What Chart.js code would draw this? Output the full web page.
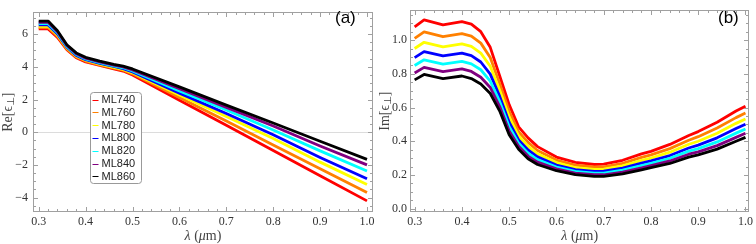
<!DOCTYPE html>
<html><head><meta charset="utf-8">
<script src="https://cdn.jsdelivr.net/npm/chart.js@4.4.0/dist/chart.umd.min.js"></script>
<style>
html,body{margin:0;padding:0;background:#fff;}
#wrap{position:relative;width:756px;height:244px;background:#fff;}
.pane{position:absolute;top:0;width:378px;height:244px;}
</style></head><body>
<div id="wrap">
<div class="pane" style="left:0"><canvas id="cA" width="378" height="244"></canvas></div>
<div class="pane" style="left:378px"><canvas id="cB" width="378" height="244"></canvas></div>
</div>
<script>
const seriesNames = ['ML740','ML760','ML780','ML800','ML820','ML840','ML860'];
const seriesColors = ['#ff0000','#ff8000','#ffff00','#0000ff','#00ffff','#800080','#000000'];

// Panel (a): Re[eps_perp]
const lamA = [0.30,0.32,0.34,0.36,0.38,0.40,0.43,0.46,0.48,0.50,0.60,0.70,0.80,0.90,1.00];
const re740 = [6.32,6.32,5.80,5.05,4.55,4.30,4.08,3.88,3.74,3.50,1.96,0.42,-1.12,-2.66,-4.20];
const re760 = [6.40,6.40,5.87,5.10,4.60,4.35,4.12,3.92,3.79,3.57,2.13,0.68,-0.78,-2.23,-3.68];
const re780 = [6.48,6.48,5.94,5.15,4.65,4.40,4.17,3.97,3.84,3.63,2.27,0.96,-0.38,-1.83,-3.20];
const re800 = [6.56,6.56,6.01,5.20,4.70,4.44,4.21,4.02,3.89,3.69,2.39,1.14,-0.16,-1.54,-2.85];
const re820 = [6.64,6.64,6.08,5.25,4.75,4.48,4.26,4.06,3.94,3.75,2.53,1.36,0.14,-1.14,-2.37];
const re840 = [6.72,6.72,6.14,5.30,4.80,4.53,4.30,4.11,3.99,3.81,2.66,1.52,0.38,-0.84,-2.00];
const re860 = [6.80,6.80,6.20,5.35,4.85,4.58,4.35,4.15,4.04,3.87,2.77,1.66,0.56,-0.55,-1.66];

// Panel (b): Im[eps_perp]
const lamB = [0.30,0.32,0.36,0.40,0.42,0.44,0.46,0.48,0.50,0.52,0.54,0.56,0.60,0.64,0.68,0.70,0.74,0.78,0.80,0.84,0.88,0.90,0.94,0.98,1.00];
const im740 = [1.079,1.120,1.090,1.110,1.095,1.050,0.957,0.787,0.617,0.485,0.420,0.368,0.306,0.274,0.262,0.264,0.287,0.325,0.340,0.381,0.434,0.457,0.513,0.579,0.608];
const im760 = [1.010,1.049,1.020,1.039,1.024,0.982,0.897,0.741,0.578,0.456,0.393,0.345,0.288,0.258,0.247,0.248,0.269,0.304,0.319,0.356,0.406,0.427,0.478,0.540,0.567];
const im780 = [0.950,0.987,0.960,0.978,0.963,0.923,0.845,0.702,0.544,0.431,0.369,0.325,0.273,0.244,0.233,0.234,0.254,0.286,0.300,0.335,0.382,0.400,0.447,0.506,0.532];
const im800 = [0.896,0.932,0.906,0.923,0.908,0.870,0.798,0.666,0.513,0.408,0.348,0.307,0.259,0.232,0.221,0.222,0.240,0.270,0.284,0.315,0.360,0.377,0.420,0.475,0.501];
const im820 = [0.849,0.883,0.858,0.874,0.859,0.824,0.757,0.635,0.486,0.389,0.329,0.291,0.247,0.221,0.211,0.211,0.228,0.256,0.269,0.299,0.341,0.356,0.396,0.448,0.473];
const im840 = [0.805,0.838,0.813,0.829,0.814,0.780,0.719,0.606,0.461,0.370,0.312,0.276,0.236,0.211,0.201,0.201,0.217,0.242,0.256,0.283,0.323,0.337,0.374,0.423,0.447];
const im860 = [0.764,0.796,0.772,0.787,0.772,0.740,0.683,0.579,0.438,0.353,0.296,0.262,0.225,0.202,0.192,0.192,0.206,0.230,0.243,0.268,0.306,0.319,0.353,0.400,0.423];

const lamTicks = [0.3,0.4,0.5,0.6,0.7,0.8,0.9,1.0];
const reTicks = [-4,-2,0,2,4,6];
const imTicks = [0.0,0.2,0.4,0.6,0.8,1.0];

const TICK_FONT = {family:'Liberation Serif', size:12};
const TICK_COLOR = '#333';
const FRAME_COLOR = '#a0a0a0';

function makeSets(xs, list){
  return list.map((arr,i)=>({
    label: seriesNames[i],
    data: arr.map((v,j)=>({x:xs[j], y:v})),
    borderColor: seriesColors[i],
    backgroundColor: seriesColors[i],
    borderWidth: 2.8,
    pointRadius: 0,
    fill: false,
    tension: 0,
    borderJoinStyle: 'round',
    order: 6 - i
  }));
}

function drawRuns(ctx, runs, cx, cy){
  let total = 0;
  runs.forEach(r=>{ ctx.font = r.font; r.w = ctx.measureText(r.t).width; total += r.w; });
  let x = cx - total/2;
  runs.forEach(r=>{ ctx.font = r.font; ctx.fillText(r.t, x, cy + (r.dy||0)); x += r.w; });
}

const framePlugin = {
  id: 'frame',
  afterDatasetsDraw(chart, args, o){
    const {ctx, chartArea:a, scales:{x, y}} = chart;
    ctx.save();
    ctx.strokeStyle = FRAME_COLOR;
    ctx.lineWidth = 1;
    ctx.strokeRect(Math.round(a.left)+0.5, Math.round(a.top)+0.5, Math.round(a.right-a.left)-1, Math.round(a.bottom-a.top)-1);
    ctx.beginPath();
    const L = Math.round(a.left)+0.5, R = Math.round(a.right)-0.5, T = Math.round(a.top)+0.5, B = Math.round(a.bottom)-0.5;
    const xt = (v,len)=>{ const p = Math.round(x.getPixelForValue(v))+0.5; ctx.moveTo(p,B); ctx.lineTo(p,B-len); ctx.moveTo(p,T); ctx.lineTo(p,T+len); };
    const yt = (v,len)=>{ const p = Math.round(y.getPixelForValue(v))+0.5; ctx.moveTo(L,p); ctx.lineTo(L+len,p); ctx.moveTo(R,p); ctx.lineTo(R-len,p); };
    for (let k=0;k<=Math.round((x.max-x.min)/o.xMinor)+1;k++){
      const v = Math.ceil(x.min/o.xMinor)*o.xMinor + k*o.xMinor;
      if (v < x.min || v > x.max) continue;
      xt(v, 2.5);
    }
    for (let k=0;k<=Math.round((y.max-y.min)/o.yMinor)+1;k++){
      const v = Math.ceil(y.min/o.yMinor)*o.yMinor + k*o.yMinor;
      if (v < y.min || v > y.max) continue;
      yt(v, 2.5);
    }
    o.xMajor.forEach(v=>xt(v,4.5));
    o.yMajor.forEach(v=>yt(v,4.5));
    ctx.stroke();

    ctx.fillStyle = '#000';
    ctx.font = '17px "Liberation Sans"';
    ctx.textBaseline = 'alphabetic';
    ctx.textAlign = 'left';
    ctx.fillText(o.label, o.labelX, o.labelY);

    ctx.fillStyle = '#444';
    ctx.textBaseline = 'middle';
    const serif = '14px "Liberation Serif"';
    const serifI = 'italic 14px "Liberation Serif"';
    drawRuns(ctx, [{t:'λ',font:serifI},{t:' (',font:serif},{t:'μ',font:serifI},{t:'m)',font:serif}], (a.left+a.right)/2, 236);
    ctx.save();
    ctx.translate(o.yTitleX, (a.top+a.bottom)/2);
    ctx.rotate(-Math.PI/2);
    drawRuns(ctx, [{t:o.yTitle,font:serif},{t:'ϵ',font:serif},{t:'⊥',font:'10px "DejaVu Sans"',dy:3},{t:']',font:serif}], 0, 0);
    ctx.restore();
    ctx.restore();
  }
};

const legendPlugin = {
  id: 'boxLegend',
  afterDraw(chart, args, o){
    if (!o.show) return;
    const ctx = chart.ctx;
    ctx.save();
    ctx.fillStyle = '#fff';
    ctx.strokeStyle = '#999';
    ctx.lineWidth = 1;
    const bx = 90.5, by = 92.5, bw = 51, bh = 91, r = 3;
    ctx.beginPath();
    ctx.moveTo(bx+r,by); ctx.lineTo(bx+bw-r,by); ctx.arcTo(bx+bw,by,bx+bw,by+r,r);
    ctx.lineTo(bx+bw,by+bh-r); ctx.arcTo(bx+bw,by+bh,bx+bw-r,by+bh,r);
    ctx.lineTo(bx+r,by+bh); ctx.arcTo(bx,by+bh,bx,by+bh-r,r);
    ctx.lineTo(bx,by+r); ctx.arcTo(bx,by,bx+r,by,r);
    ctx.closePath(); ctx.fill(); ctx.stroke();
    ctx.font = '11px "Liberation Sans"';
    ctx.textBaseline = 'middle';
    ctx.textAlign = 'left';
    chart.data.datasets.forEach((d,i)=>{
      const yy = 99.5 + i*12.8;
      ctx.strokeStyle = d.borderColor;
      ctx.lineWidth = 1;
      ctx.beginPath(); ctx.moveTo(92.5, Math.round(yy)+0.5); ctx.lineTo(98.5, Math.round(yy)+0.5); ctx.stroke();
      ctx.fillStyle = '#222';
      ctx.fillText(d.label, 101.5, yy+0.5);
    });
    ctx.restore();
  }
};

function makeChart(id, xs, list, cfg){
  return new Chart(document.getElementById(id), {
    type: 'line',
    data: { datasets: makeSets(xs, list) },
    plugins: [framePlugin, legendPlugin],
    options: {
      responsive: false,
      animation: false,
      devicePixelRatio: 1,
      layout: { padding: { left: 0, right: cfg.padRight, top: 1, bottom: 0 } },
      plugins: {
        legend: { display: false },
        tooltip: { enabled: false },
        frame: cfg.frame,
        boxLegend: { show: cfg.legend }
      },
      scales: {
        x: {
          type: 'linear',
          min: cfg.xmin, max: cfg.xmax,
          afterBuildTicks: s => { s.ticks = lamTicks.map(v=>({value:v})); },
          afterFit: s => { s.height = 32; },
          ticks: { autoSkip:false, maxRotation:0, padding:3, font: TICK_FONT, color: TICK_COLOR, callback: v => Number(v).toFixed(1) },
          grid: { display: false, drawTicks: false },
          border: { display: false },
          title: { display: false }
        },
        y: {
          type: 'linear',
          min: cfg.ymin, max: cfg.ymax,
          afterBuildTicks: s => { s.ticks = cfg.yTicks.map(v=>({value:v})); },
          afterFit: s => { s.width = cfg.yWidth; },
          ticks: { autoSkip:false, padding: cfg.yPad, font: TICK_FONT, color: TICK_COLOR, callback: cfg.yFmt },
          grid: { drawTicks:false, color: c => (cfg.zeroLine && c.tick && c.tick.value === 0) ? '#dcdcdc' : 'rgba(0,0,0,0)' },
          border: { display: false },
          title: { display: false }
        }
      }
    }
  });
}

makeChart('cA', lamA, [re740,re760,re780,re800,re820,re840,re860], {
  padRight: 5, xmin: 0.2878, xmax: 1.0128, ymin: -4.88, ymax: 7.34,
  yTicks: reTicks, yWidth: 33, yPad: 5, zeroLine: true, legend: true,
  yFmt: v => v < 0 ? '\u2212' + Math.abs(v) : String(v),
  frame: { xMinor: 0.02, yMinor: 0.5, xMajor: lamTicks, yMajor: reTicks, label: '(a)', labelX: 335, labelY: 23, yTitle: 'Re[', yTitleX: 8 }
});
makeChart('cB', lamB, [im740,im760,im780,im800,im820,im840,im860], {
  padRight: 2, xmin: 0.2902, xmax: 1.0084, ymin: -0.0199, ymax: 1.1774,
  yTicks: imTicks, yWidth: 32, yPad: 3, zeroLine: false, legend: false,
  yFmt: v => Number(v).toFixed(1),
  frame: { xMinor: 0.02, yMinor: 0.05, xMajor: lamTicks, yMajor: imTicks, label: '(b)', labelX: 340, labelY: 23, yTitle: 'Im[', yTitleX: 7 }
});
</script>
</body></html>
